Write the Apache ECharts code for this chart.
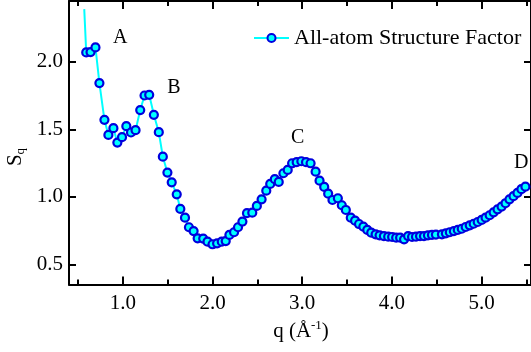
<!DOCTYPE html>
<html>
<head>
<meta charset="utf-8">
<script src="https://cdn.jsdelivr.net/npm/echarts@6/dist/echarts.min.js"></script>
<style>
  html, body { margin: 0; padding: 0; background: #fff; }
  #chart { width: 531px; height: 352px; }
</style>
</head>
<body>
<div id="chart"></div>
<script>
// Structure factor S(q) of the all-atom model
const seriesName = 'All-atom Structure Factor';
const qValues = [
  0.570, 0.592, 0.640, 0.695, 0.739, 0.795, 0.839, 0.895, 0.939, 0.991,
  1.039, 1.091, 1.142, 1.194, 1.242, 1.294, 1.346, 1.401, 1.446, 1.497,
  1.545, 1.601, 1.641, 1.693, 1.737, 1.789, 1.834, 1.896, 1.944, 2.000,
  2.051, 2.103, 2.147, 2.188, 2.240, 2.284, 2.333, 2.384, 2.443, 2.494,
  2.547, 2.599, 2.643, 2.694, 2.738, 2.790, 2.838, 2.887, 2.938, 2.990,
  3.042, 3.093, 3.149, 3.193, 3.245, 3.289, 3.337, 3.397, 3.441, 3.486,
  3.541, 3.589, 3.633, 3.681, 3.725, 3.769, 3.818, 3.862, 3.910, 3.958,
  4.002, 4.047, 4.091, 4.135, 4.180, 4.224, 4.268, 4.313, 4.357, 4.401,
  4.446, 4.490, 4.557, 4.601, 4.645, 4.690, 4.734, 4.778, 4.822, 4.867,
  4.911, 4.956, 5.000, 5.044, 5.089, 5.133, 5.177, 5.222, 5.266, 5.310,
  5.355, 5.399, 5.443, 5.488
];
const sValues = [
  2.390, 2.069, 2.072, 2.106, 1.842, 1.570, 1.458, 1.508, 1.401, 1.441,
  1.523, 1.476, 1.493, 1.642, 1.750, 1.755, 1.607, 1.478, 1.297, 1.179,
  1.107, 1.018, 0.910, 0.845, 0.774, 0.746, 0.692, 0.690, 0.667, 0.648,
  0.655, 0.667, 0.672, 0.717, 0.737, 0.774, 0.816, 0.878, 0.882, 0.932,
  0.981, 1.045, 1.095, 1.130, 1.110, 1.174, 1.199, 1.248, 1.256, 1.263,
  1.256, 1.248, 1.186, 1.119, 1.073, 1.023, 0.976, 0.989, 0.937, 0.902,
  0.845, 0.823, 0.798, 0.778, 0.754, 0.734, 0.722, 0.714, 0.709, 0.704,
  0.702, 0.697, 0.697, 0.685, 0.709, 0.702, 0.704, 0.709, 0.709, 0.714,
  0.717, 0.720, 0.722, 0.729, 0.737, 0.746, 0.754, 0.763, 0.776, 0.788,
  0.800, 0.813, 0.828, 0.845, 0.863, 0.885, 0.907, 0.927, 0.952, 0.981,
  1.004, 1.028, 1.056, 1.075
];
// Peak annotations
const annLabels = ['A', 'B', 'C', 'D'];
const annQ = [0.97, 1.57, 2.95, 5.44];
const annS = [2.18, 1.81, 1.44, 1.25];

// Axis ticks
const xMajor = [1, 2, 3, 4, 5];
const xMinor = [0.5, 1.5, 2.5, 3.5, 4.5, 5.5];
const yMajor = [0.5, 1.0, 1.5, 2.0];
const xRange = [0.4, 5.55];
const yRange = [0.35, 2.45];

const FONT = 'Liberation Serif, Times New Roman, serif';

// The first point only carries the line in from above, without a marker
const lineData = qValues.map((q, i) => i === 0
  ? { value: [q, sValues[i]], symbol: 'none' }
  : [q, sValues[i]]);
const annData = annLabels.map((n, i) => ({ name: n, value: [annQ[i], annS[i]] }));

const axisLine = { show: true, onZero: false, lineStyle: { color: '#000', width: 2 } };
const noSplit = { show: false };

function xAxisDef(pos, ticks, len, withLine, withLabels) {
  return {
    type: 'value', gridIndex: 0, position: pos, min: xRange[0], max: xRange[1],
    axisLine: withLine ? axisLine : { show: false },
    axisTick: { show: true, inside: true, length: len, customValues: ticks,
                lineStyle: { color: '#000', width: 2 } },
    axisLabel: withLabels ? {
      show: true, customValues: ticks, margin: 8,
      formatter: v => v.toFixed(1),
      fontFamily: FONT, fontSize: 21, color: '#000'
    } : { show: false },
    splitLine: noSplit
  };
}
function yAxisDef(pos, withLabels) {
  return {
    type: 'value', gridIndex: 0, position: pos, min: yRange[0], max: yRange[1],
    axisLine: axisLine,
    axisTick: { show: true, inside: true, length: 7, customValues: yMajor,
                lineStyle: { color: '#000', width: 2 } },
    axisLabel: withLabels ? {
      show: true, customValues: yMajor, margin: 6,
      formatter: v => v.toFixed(1),
      fontFamily: FONT, fontSize: 21, color: '#000'
    } : { show: false },
    splitLine: noSplit
  };
}

const chart = echarts.init(document.getElementById('chart'), null, { renderer: 'canvas' });
chart.setOption({
  backgroundColor: '#fff',
  animation: false,
  grid: { left: 69, right: -2, top: 1, bottom: 67.5, containLabel: false },
  xAxis: [
    xAxisDef('bottom', xMajor, 8, true, true),
    xAxisDef('bottom', xMinor, 5, false, false),
    xAxisDef('top', xMajor, 8, true, false),
    xAxisDef('top', xMinor, 5, false, false)
  ],
  yAxis: [
    yAxisDef('left', true),
    yAxisDef('right', false)
  ],
  legend: {
    data: [seriesName],
    left: 248, top: 22,
    itemWidth: 35, itemHeight: 10,
    textStyle: { fontFamily: FONT, fontSize: 22, color: '#000' }
  },
  graphic: [
    {
      type: 'text', x: 301, y: 331,
      style: {
        text: '{t|q (Å}{s|-1}{t|)}',
        textAlign: 'center', textVerticalAlign: 'middle',
        rich: {
          t: { fontFamily: FONT, fontSize: 21, color: '#000', lineHeight: 24 },
          s: { fontFamily: FONT, fontSize: 13, color: '#000', verticalAlign: 'top', lineHeight: 14 }
        }
      }
    },
    {
      type: 'text', x: 15, y: 157, rotation: Math.PI / 2,
      style: {
        text: '{t|S}{s|q}',
        textAlign: 'center', textVerticalAlign: 'middle',
        rich: {
          t: { fontFamily: FONT, fontSize: 21, color: '#000', lineHeight: 24 },
          s: { fontFamily: FONT, fontSize: 13, color: '#000', verticalAlign: 'bottom', lineHeight: 14 }
        }
      }
    }
  ],
  series: [
    {
      name: seriesName,
      type: 'line',
      xAxisIndex: 0, yAxisIndex: 0,
      data: lineData,
      showAllSymbol: true,
      symbol: 'circle',
      symbolSize: 8,
      itemStyle: { color: '#00ffff', borderColor: '#0000dd', borderWidth: 2.2 },
      lineStyle: { color: '#00ffff', width: 2 },
      z: 3
    },
    {
      name: 'labels',
      type: 'scatter',
      xAxisIndex: 0, yAxisIndex: 0,
      data: annData,
      symbolSize: 0,
      itemStyle: { color: '#000', opacity: 1 },
      label: {
        show: true, position: 'inside', formatter: p => p.name,
        fontFamily: FONT, fontSize: 20, color: '#000',
        textBorderWidth: 0, opacity: 1
      },
      z: 4
    }
  ]
});
</script>
</body>
</html>
